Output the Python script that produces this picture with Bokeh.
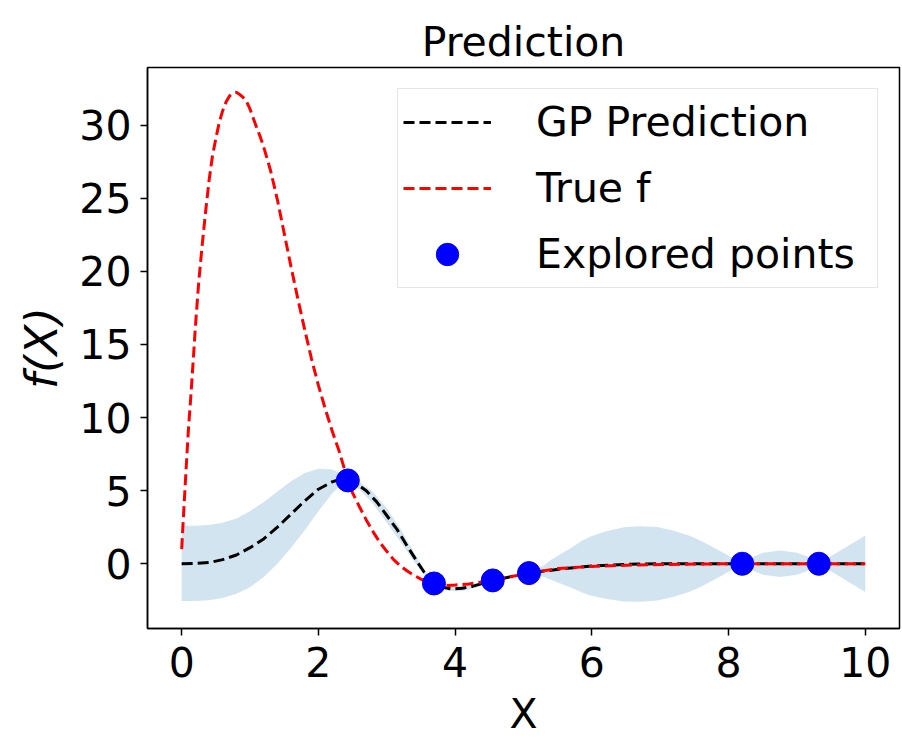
from bokeh.plotting import figure
from bokeh.models import Range1d, FixedTicker
from bokeh.embed import file_html
from bokeh.resources import INLINE

# ---- data ----
# true function (red dashed)
true_x = [0.0, 0.03, 0.066, 0.1, 0.13, 0.17, 0.2, 0.25, 0.3, 0.35, 0.4, 0.45, 0.5, 0.55,
          0.6, 0.65, 0.7, 0.75, 0.8, 0.85, 0.9, 0.95, 1.0, 1.05, 1.1, 1.15, 1.2, 1.25,
          1.3, 1.35, 1.4, 1.5, 1.6, 1.7, 1.8, 1.9, 2.0, 2.1, 2.2, 2.3, 2.43, 2.5, 2.6,
          2.7, 2.8, 2.9, 3.0, 3.1, 3.2, 3.3, 3.4, 3.5, 3.6, 3.7, 3.8, 3.9, 4.0, 4.2,
          4.4, 4.6, 4.8, 5.0, 5.2, 5.5, 6.0, 6.5, 7.0, 8.0, 9.0, 10.0]
true_y = [1.0, 3.6, 6.6, 9.3, 11.2, 14.0, 16.2, 19.3, 21.8, 24.1, 26.2, 27.9, 29.1, 30.2,
          31.0, 31.6, 32.0, 32.2, 32.25, 32.1, 31.9, 31.6, 31.1, 30.45, 29.8, 29.2, 28.5, 27.7,
          26.9, 25.9, 24.9, 22.6, 20.3, 18.1, 16.0, 14.0, 12.2, 10.6, 9.1, 7.75, 5.7, 4.85, 3.9,
          3.0, 2.18, 1.45, 0.85, 0.28, -0.15, -0.5, -0.8, -1.05, -1.25, -1.38, -1.47, -1.48, -1.45, -1.38,
          -1.25, -1.08, -0.9, -0.72, -0.55, -0.33, -0.18, -0.1, -0.05, 0.0, 0.0, 0.0]

# GP mean (black dashed)
gp_x = [0.0, 0.2, 0.4, 0.6, 0.8, 1.0, 1.2, 1.4, 1.6, 1.8, 2.0, 2.2, 2.3, 2.43, 2.55, 2.7,
        2.85, 3.0, 3.15, 3.3, 3.45, 3.55, 3.69, 3.8, 3.95, 4.1, 4.25, 4.4, 4.55, 4.8, 5.08,
        5.3, 5.6, 6.0, 6.5, 7.0, 8.2, 9.32, 10.0]
gp_y = [0.0, 0.02, 0.08, 0.28, 0.6, 1.1, 1.7, 2.5, 3.4, 4.3, 5.1, 5.6, 5.75, 5.7, 5.5, 5.0,
        4.25, 3.3, 2.35, 1.2, 0.1, -0.6, -1.35, -1.6, -1.72, -1.68, -1.55, -1.35, -1.14, -0.9, -0.64,
        -0.5, -0.33, -0.15, -0.04, 0.0, 0.0, 0.0, 0.0]

# confidence band
band_x = [0.0, 0.2, 0.4, 0.6, 0.8, 1.0, 1.2, 1.4, 1.6, 1.8, 2.0, 2.2, 2.3, 2.43, 2.6, 2.8,
          3.0, 3.2, 3.4, 3.55, 3.69, 3.9, 4.1, 4.3, 4.55, 4.8, 5.08, 5.2, 5.3, 5.4, 5.54,
          5.7, 5.85, 5.98, 6.2, 6.47, 6.7, 6.96, 7.2, 7.44, 7.6, 7.83, 8.0, 8.1, 8.2,
          8.35, 8.5, 8.76, 9.0, 9.15, 9.32, 9.45, 9.6, 9.8, 10.0]
band_upper = [2.6, 2.6, 2.65, 2.8, 3.1, 3.6, 4.2, 4.95, 5.65, 6.2, 6.5, 6.45, 6.25, 5.75, 5.6, 4.9,
              3.8, 2.4, 0.75, -0.45, -1.3, -1.55, -1.5, -1.35, -1.1, -0.85, -0.6, -0.35, -0.1, 0.26, 0.65,
              1.09, 1.55, 1.87, 2.2, 2.5, 2.56, 2.51, 2.25, 1.9, 1.55, 1.0, 0.55, 0.3, 0.0,
              0.45, 0.75, 0.9, 0.75, 0.5, 0.0, 0.37, 0.8, 1.37, 1.94]
band_lower = [-2.55, -2.55, -2.5, -2.35, -2.05, -1.6, -0.9, 0.0, 1.1, 2.3, 3.6, 4.8, 5.25, 5.65, 5.1, 4.1,
              2.8, 1.5, 0.15, -0.75, -1.4, -1.85, -1.86, -1.65, -1.18, -0.95, -0.68, -0.75, -0.9, -1.1, -1.35,
              -1.65, -1.95, -2.17, -2.4, -2.58, -2.6, -2.51, -2.25, -1.9, -1.55, -1.0, -0.55, -0.3, 0.0,
              -0.45, -0.75, -0.9, -0.75, -0.5, 0.0, -0.37, -0.8, -1.37, -1.94]

# explored points
pts_x = [2.43, 3.69, 4.55, 5.08, 8.2, 9.32]
pts_y = [5.7, -1.35, -1.14, -0.64, 0.0, 0.0]

x_ticks = [0, 2, 4, 6, 8, 10]
y_ticks = [0, 5, 10, 15, 20, 25, 30]

FONT = "DejaVu Sans"
FS = "41px"

p = figure(width=901, height=746, output_backend="svg", toolbar_location=None,
           x_range=Range1d(-0.5, 10.5), y_range=Range1d(-4.43, 33.95),
           title="Prediction",
           min_border_left=147, min_border_right=2, min_border_top=67, min_border_bottom=118)

p.title.text_font = FONT
p.title.text_font_size = FS
p.title.text_font_style = "normal"
p.title.align = "center"
p.title.standoff = 3
p.title.text_color = "black"

p.grid.visible = False
p.background_fill_color = "white"
p.border_fill_color = "white"
p.outline_line_color = "black"
p.outline_line_width = 1.5

for ax in (p.xaxis, p.yaxis):
    ax.axis_line_color = "black"
    ax.axis_line_width = 1.5
    ax.major_tick_line_color = "black"
    ax.major_tick_line_width = 1.5
    ax.major_tick_out = 7
    ax.major_tick_in = 0
    ax.minor_tick_line_color = None
    ax.major_label_text_font = FONT
    ax.major_label_text_font_size = FS
    ax.major_label_text_color = "black"
    ax.axis_label_text_font = FONT
    ax.axis_label_text_font_size = FS
    ax.axis_label_text_color = "black"

p.xaxis.ticker = FixedTicker(ticks=x_ticks)
p.yaxis.ticker = FixedTicker(ticks=y_ticks)
p.xaxis.axis_label = "X"
p.xaxis.axis_label_text_font_style = "normal"
p.yaxis.axis_label = "f(X)"
p.yaxis.axis_label_text_font_style = "italic"
p.yaxis.axis_label_text_font_size = "45px"
p.xaxis.major_label_standoff = 11
p.yaxis.major_label_standoff = 9
p.xaxis.axis_label_standoff = 10
p.yaxis.axis_label_standoff = 8

p.varea(x=band_x, y1=band_lower, y2=band_upper, fill_color="#1f77b4", fill_alpha=0.2)
p.line(gp_x, gp_y, line_color="black", line_dash="11 5", line_width=3,
       legend_label="GP Prediction")
p.line(true_x, true_y, line_color="red", line_dash="11 5", line_width=3,
       legend_label="True f")
p.scatter(pts_x, pts_y, size=23, fill_color="blue", line_color="blue",
          legend_label="Explored points")

lg = p.legend[0]
lg.location = "top_right"
lg.margin = 21
lg.padding = 5
lg.spacing = 10
lg.glyph_width = 88
lg.glyph_height = 56
lg.label_height = 56
lg.label_width = 336
lg.label_standoff = 45
lg.label_text_font = FONT
lg.label_text_font_size = FS
lg.label_text_color = "black"
lg.border_line_color = "#cccccc"
lg.border_line_width = 1.5
lg.background_fill_color = "white"
lg.background_fill_alpha = 0.8

open("out.html", "w").write(file_html(p, INLINE))
